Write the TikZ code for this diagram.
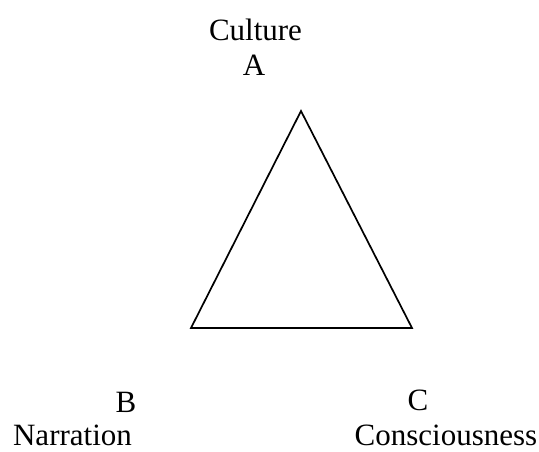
\documentclass[tikz,border=0pt]{standalone}
\usepackage{fontspec}
\setmainfont{Liberation Serif}
\usepackage{tikz}
\usetikzlibrary{positioning}
\tikzset{
  lbl/.style={inner sep=0pt, anchor=base, font=\fontsize{31}{36}\selectfont},
  edge/.style={line width=1.7pt, line join=miter}
}

\begin{document}
\begin{tikzpicture}[x=1pt, y=-1pt]
    \useasboundingbox (0,0) rectangle (539,451);
    % triangle corners
    \coordinate (ta) at (301,111);
    \coordinate (tb) at (191,328);
    \coordinate (tc) at (412,328);
    \draw[edge] (ta) -- (tb) -- (tc) -- cycle;
    % labels
    \node[lbl] (cult) at (255.5,40) {Culture};
    \node[lbl] (la) at (254,75) {A};
    \node[lbl] (lb) at (126,412) {B};
    \node[lbl] (narr) at (72.5,445) {Narration};
    \node[lbl] (lc) at (418,410) {C};
    \node[lbl] (cons) at (446,445) {Consciousness};
  \end{tikzpicture}
\end{document}
